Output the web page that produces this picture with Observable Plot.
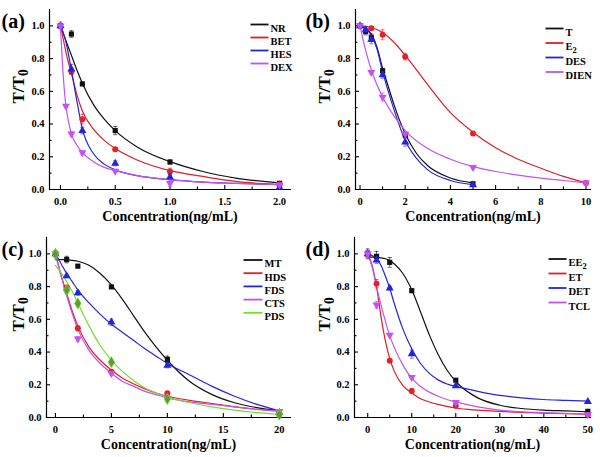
<!DOCTYPE html>
<html><head><meta charset="utf-8">
<script src="https://cdn.jsdelivr.net/npm/d3@7"></script>
<script src="https://cdn.jsdelivr.net/npm/@observablehq/plot@0.6"></script>
<style>
html,body{margin:0;padding:0;background:#fff;}
#wrap{position:relative;width:600px;height:457px;overflow:hidden;background:#fff;}
#wrap svg{position:absolute;overflow:visible;}
</style></head><body><div id="wrap"></div>
<script>
// ---------- Panel (a) ----------
const aNames = ["NR", "BET", "HES", "DEX"];
const aX = [0, 0.1, 0.2, 0.5, 1, 2];
const aDEXx = [0, 0.05, 0.1, 0.2, 0.5, 1, 2];
const aNR = [1.0, 0.95, 0.645, 0.36, 0.168, 0.038];
const aNRerr = [0.01, 0.02, 0.01, 0.025, 0.012, 0.005];
const aBET = [1.0, 0.72, 0.43, 0.246, 0.11, 0.03];
const aBETerr = [0.01, 0.015, 0.03, 0.01, 0.02, 0.005];
const aHES = [1.0, 0.735, 0.36, 0.16, 0.076, 0.012];
const aHESerr = [0.01, 0.03, 0.02, 0.015, 0.015, 0.005];
const aDEX = [1.0, 0.51, 0.34, 0.226, 0.113, 0.038, 0.028];
const aDEXerr = [0.025, 0.01, 0.015, 0.01, 0.01, 0.02, 0.005];
const aCurveX = [0, 0.025, 0.05, 0.075, 0.1, 0.15, 0.2, 0.3, 0.4, 0.5, 0.7, 1.0, 1.3, 1.6, 2.0];
const aCurveNR = [1.0, 0.955, 0.91, 0.865, 0.82, 0.73, 0.65, 0.52, 0.43, 0.36, 0.26, 0.17, 0.11, 0.07, 0.04];
const aCurveBET = [1.0, 0.92, 0.84, 0.77, 0.71, 0.58, 0.48, 0.37, 0.30, 0.25, 0.18, 0.115, 0.08, 0.05, 0.03];
const aCurveHES = [1.0, 0.96, 0.9, 0.82, 0.73, 0.54, 0.37, 0.22, 0.155, 0.12, 0.085, 0.06, 0.045, 0.038, 0.03];
const aCurveDEX = [1.0, 0.70, 0.51, 0.41, 0.34, 0.27, 0.225, 0.17, 0.135, 0.115, 0.085, 0.06, 0.045, 0.038, 0.03];
const aTicks = [0, 0.5, 1.0, 1.5, 2.0];
const aMinor = [0.25, 0.75, 1.25, 1.75];

// ---------- Panel (b) ----------
const bNames = ["T", "E_2", "DES", "DIEN"];
const bX = [0, 0.25, 0.5, 1, 2, 5];
const bX2 = [0, 0.5, 1, 2, 5, 10];
const bT = [1.0, 0.965, 0.93, 0.725, 0.333, 0.035];
const bTerr = [0.01, 0.02, 0.02, 0.015, 0.01, 0.005];
const bE2 = [1.0, 0.985, 0.945, 0.812, 0.342, 0.04];
const bE2err = [0.01, 0.01, 0.03, 0.02, 0.01, 0.005];
const bDES = [1.0, 0.975, 0.915, 0.70, 0.29, 0.028];
const bDESerr = [0.01, 0.02, 0.025, 0.02, 0.025, 0.005];
const bDIEN = [1.0, 0.716, 0.565, 0.34, 0.136, 0.04];
const bDIENerr = [0.01, 0.01, 0.025, 0.01, 0.01, 0.005];
const bCurveX = [0, 0.25, 0.5, 0.75, 1, 1.25, 1.5, 2, 2.5, 3, 4, 5];
const bCurveT = [0.995, 0.985, 0.95, 0.87, 0.74, 0.63, 0.52, 0.34, 0.22, 0.145, 0.07, 0.04];
const bCurveDES = [0.995, 0.985, 0.945, 0.86, 0.72, 0.6, 0.49, 0.30, 0.19, 0.12, 0.055, 0.03];
const bCurveX2 = [0, 0.5, 1, 1.5, 2, 3, 4, 5, 6, 7, 8, 9, 10];
const bCurveE2 = [1.0, 0.99, 0.96, 0.90, 0.82, 0.64, 0.47, 0.35, 0.255, 0.185, 0.13, 0.08, 0.04];
const bCurveX3 = [0, 0.25, 0.5, 0.75, 1, 1.5, 2, 3, 4, 5, 6, 7, 8, 9, 10];
const bCurveDIEN = [1.0, 0.85, 0.73, 0.64, 0.565, 0.45, 0.36, 0.25, 0.185, 0.14, 0.11, 0.088, 0.07, 0.055, 0.04];
const bTicks = [0, 2, 4, 6, 8, 10];
const bMinor = [1, 3, 5, 7, 9];

// ---------- Panel (c) ----------
const cNames = ["MT", "HDS", "FDS", "CTS", "PDS"];
const cX = [0, 1, 2, 5, 10, 20];
const cMT = [1.0, 0.965, 0.925, 0.798, 0.355, 0.02];
const cMTerr = [0.01, 0.02, 0.01, 0.01, 0.02, 0.01];
const cHDS = [1.0, 0.795, 0.545, 0.28, 0.148, 0.025];
const cHDSerr = [0.01, 0.01, 0.015, 0.01, 0.01, 0.005];
const cFDS = [1.0, 0.865, 0.762, 0.582, 0.318, 0.03];
const cFDSerr = [0.01, 0.01, 0.015, 0.02, 0.015, 0.005];
const cCTS = [1.0, 0.772, 0.48, 0.27, 0.115, 0.038];
const cCTSerr = [0.02, 0.01, 0.015, 0.01, 0.01, 0.005];
const cPDS = [1.0, 0.778, 0.697, 0.338, 0.113, 0.018];
const cPDSerr = [0.02, 0.01, 0.015, 0.01, 0.01, 0.005];
const cCurveX = [0, 0.5, 1, 1.5, 2, 3, 4, 5, 6, 7, 8, 9, 10, 12, 14, 16, 18, 20];
const cCurveMT = [0.965, 0.965, 0.965, 0.96, 0.955, 0.93, 0.88, 0.81, 0.72, 0.62, 0.52, 0.43, 0.35, 0.22, 0.14, 0.09, 0.06, 0.04];
const cCurveHDS = [1.0, 0.87, 0.76, 0.65, 0.56, 0.43, 0.35, 0.29, 0.24, 0.205, 0.175, 0.15, 0.13, 0.105, 0.085, 0.065, 0.05, 0.04];
const cCurveFDS = [1.0, 0.94, 0.88, 0.83, 0.78, 0.70, 0.63, 0.57, 0.52, 0.47, 0.42, 0.375, 0.33, 0.26, 0.19, 0.13, 0.08, 0.04];
const cCurveCTS = [1.0, 0.865, 0.745, 0.635, 0.54, 0.41, 0.33, 0.27, 0.22, 0.19, 0.16, 0.14, 0.12, 0.095, 0.08, 0.065, 0.05, 0.04];
const cCurvePDS = [0.93, 0.885, 0.83, 0.77, 0.70, 0.56, 0.44, 0.35, 0.28, 0.225, 0.18, 0.15, 0.125, 0.09, 0.065, 0.045, 0.03, 0.02];
const cTicks = [0, 5, 10, 15, 20];
const cMinor = [2.5, 7.5, 12.5, 17.5];

// ---------- Panel (d) ----------
const dNames = ["EE_2", "ET", "DET", "TCL"];
const dX = [0, 2, 5, 10, 20, 50];
const dEE2 = [1.0, 0.985, 0.948, 0.775, 0.228, 0.038];
const dEE2err = [0.03, 0.03, 0.03, 0.01, 0.01, 0.005];
const dET = [1.0, 0.818, 0.347, 0.162, 0.072, 0.015];
const dETerr = [0.02, 0.025, 0.01, 0.015, 0.01, 0.005];
const dDET = [1.0, 0.962, 0.79, 0.388, 0.193, 0.097];
const dDETerr = [0.02, 0.02, 0.01, 0.025, 0.01, 0.005];
const dTCL = [1.0, 0.688, 0.503, 0.245, 0.093, 0.018];
const dTCLerr = [0.02, 0.02, 0.01, 0.01, 0.01, 0.005];
const dCurveX = [0, 1, 2, 3, 4, 5, 6, 8, 10, 12, 14, 16, 18, 20, 25, 30, 35, 40, 45, 50];
const dCurveEE2 = [0.98, 0.98, 0.98, 0.975, 0.97, 0.96, 0.94, 0.88, 0.78, 0.645, 0.505, 0.385, 0.29, 0.22, 0.12, 0.075, 0.055, 0.045, 0.04, 0.035];
const dCurveET = [1.0, 0.93, 0.80, 0.62, 0.47, 0.36, 0.285, 0.195, 0.15, 0.115, 0.095, 0.08, 0.068, 0.058, 0.045, 0.037, 0.031, 0.027, 0.023, 0.02];
const dCurveDET = [1.0, 0.99, 0.97, 0.93, 0.865, 0.79, 0.70, 0.54, 0.42, 0.33, 0.27, 0.23, 0.205, 0.19, 0.16, 0.135, 0.12, 0.11, 0.105, 0.1];
const dCurveTCL = [1.0, 0.92, 0.80, 0.69, 0.59, 0.50, 0.43, 0.32, 0.24, 0.19, 0.155, 0.13, 0.11, 0.095, 0.065, 0.045, 0.035, 0.03, 0.025, 0.02];
const dTicks = [0, 10, 20, 30, 40, 50];
const dMinor = [5, 15, 25, 35, 45];

// ---------- shared ----------
const yTicks = [0, 0.2, 0.4, 0.6, 0.8, 1.0];
const yMinor = [0.1, 0.3, 0.5, 0.7, 0.9];
const xTitle = "Concentration(ng/mL)";
const yTitle = "T/T_0";
const seriesColors = ["#111111", "#dd1f26", "#2424e0", "#c252f2", "#6fe030"];
const seriesSymbols = ["square", "circle", "triangle", "triangle", "diamond"];
const seriesRotate = [0, 0, 0, 180, 0];
const seriesFill = ["#111111", "#e5202a", "#2424e0", "#c252f2", "#5e9a34"];

const FONT = "'Liberation Serif', 'Times New Roman', serif";
const hline = {draw(ctx, size) { const w = Math.sqrt(size / Math.PI); ctx.moveTo(-w, 0); ctx.lineTo(w, 0); }};

function rows(names, xs, ys, errs) {
  return names.map((n, k) => xs[k].map((x, i) => ({s: k, name: n, x, y: ys[k][i], e: errs ? errs[k][i] : 0}))).flat();
}

function panel(cfg) {
  const pts = rows(cfg.names, cfg.px, cfg.py, cfg.pe);
  const crv = rows(cfg.names, cfg.cx, cfg.cy);
  const ml = cfg.m[3], mt = cfg.m[0];
  const marks = [
    Plot.frame({anchor: "left", stroke: "#000", strokeWidth: 1.2}),
    Plot.frame({anchor: "bottom", stroke: "#000", strokeWidth: 1.2}),
    Plot.axisX({ticks: cfg.ticks, tickSize: 0, tickPadding: 8, tickFormat: cfg.fmt, label: null, fontSize: 10.5, fontWeight: "bold"}),
    // inward ticks: outward tick shifted back across the axis line
    Plot.axisX({ticks: cfg.ticks, tickSize: 4, dy: -4, tickFormat: () => "", label: null, strokeWidth: 1.1}),
    Plot.axisX({ticks: cfg.minor, tickSize: 2.5, dy: -2.5, tickFormat: () => "", label: null, strokeWidth: 1.1}),
    Plot.axisY({ticks: yTicks, tickSize: 0, tickPadding: 5, tickFormat: d3.format(".1f"), label: null, fontSize: 10.5, fontWeight: "bold"}),
    Plot.axisY({ticks: yTicks, tickSize: 4, dx: 4, tickFormat: () => "", label: null, strokeWidth: 1.1}),
    Plot.axisY({ticks: yMinor, tickSize: 2.5, dx: 2.5, tickFormat: () => "", label: null, strokeWidth: 1.1}),
    Plot.line(crv, {x: "x", y: "y", z: "s", stroke: d => seriesColors[d.s], curve: "monotone-x", strokeWidth: 1.2})
  ];
  cfg.names.forEach((n, k) => {
    const p = pts.filter(d => d.s === k);
    const col = seriesColors[k];
    marks.push(
      Plot.ruleX(p, {x: "x", y1: d => d.y - d.e, y2: d => d.y + d.e, stroke: col, strokeWidth: 0.8, strokeOpacity: 0.8}),
      Plot.dot(p, {x: "x", y: d => d.y + d.e, symbol: hline, r: 2, stroke: col, strokeWidth: 0.8, strokeOpacity: 0.8}),
      Plot.dot(p, {x: "x", y: d => d.y - d.e, symbol: hline, r: 2, stroke: col, strokeWidth: 0.8, strokeOpacity: 0.8}),
      Plot.dot(p, {x: "x", y: "y", symbol: seriesSymbols[k], rotate: seriesRotate[k], r: k === 4 ? 3.4 : (k === 0 ? 2.9 : 3.0), fill: seriesFill[k], stroke: k === 4 ? seriesColors[4] : "none", strokeWidth: 0.8})
    );
    // legend
    const ly = cfg.leg[1] + k * cfg.leg[2];
    marks.push(
      Plot.dot([n], {frameAnchor: "top-left", dx: cfg.leg[0] + cfg.leg[3] / 2 - ml, dy: ly - mt, symbol: hline, r: cfg.leg[3] / 2, stroke: col, strokeWidth: 1.8}),
      Plot.text([n], {frameAnchor: "top-left", dx: cfg.leg[0] + cfg.leg[3] + 2 - ml, dy: ly - mt, text: d => d, textAnchor: "start", fontSize: 10.5, fontWeight: "bold", fill: "#000"})
    );
  });
  marks.push(
    Plot.text([xTitle], {frameAnchor: "bottom", dy: 31, text: d => d, fontSize: 14, fontWeight: "bold", fill: "#000"}),
    Plot.text([yTitle], {frameAnchor: "left", dx: cfg.ytx - ml, dy: 4, rotate: -90, text: d => d, fontSize: 17, fontWeight: "bold", fill: "#000"}),
    Plot.text([cfg.label], {frameAnchor: "top-left", dx: cfg.lab[0] - ml, dy: cfg.lab[1] - mt, text: d => d, textAnchor: "start", fontSize: 20, fontWeight: "bold", fill: "#000"})
  );
  const svg = Plot.plot({
    width: cfg.w, height: cfg.h,
    marginTop: cfg.m[0], marginRight: cfg.m[1], marginBottom: cfg.m[2], marginLeft: cfg.m[3],
    x: {domain: cfg.xd},
    y: {domain: [0, 1.1]},
    style: {fontFamily: FONT, fontWeight: "bold", color: "#000", background: "transparent", overflow: "visible"},
    marks
  });
  svg.style.left = cfg.left + "px";
  svg.style.top = cfg.top + "px";
  // subscripts ("_x" -> lowered digit)
  svg.querySelectorAll("text").forEach(t => {
    const s = t.textContent;
    if (t.children.length === 0 && s.includes("_")) {
      const [a, b] = s.split("_");
      t.textContent = a;
      const ts = document.createElementNS("http://www.w3.org/2000/svg", "tspan");
      ts.setAttribute("dy", "0.3em");
      ts.setAttribute("font-size", "0.8em");
      ts.textContent = b;
      t.appendChild(ts);
    }
  });
  document.getElementById("wrap").appendChild(svg);
}

panel({label: "(a)", names: aNames, left: 0, top: 0, w: 300, h: 228, m: [9, 10, 39, 49], xd: [-0.1, 2.1],
  ticks: aTicks, minor: aMinor, fmt: d3.format(".1f"),
  px: [aX, aX, aX, aDEXx], py: [aNR, aBET, aHES, aDEX], pe: [aNRerr, aBETerr, aHESerr, aDEXerr],
  cx: [aCurveX, aCurveX, aCurveX, aCurveX], cy: [aCurveNR, aCurveBET, aCurveHES, aCurveDEX],
  leg: [250, 24, 13, 18], ytx: 18, lab: [1, 13]});

panel({label: "(b)", names: bNames, left: 300, top: 0, w: 300, h: 228, m: [9, 10, 39, 55], xd: [-0.2, 10.2],
  ticks: bTicks, minor: bMinor, fmt: d3.format("d"),
  px: [bX, bX2, bX, bX2], py: [bT, bE2, bDES, bDIEN], pe: [bTerr, bE2err, bDESerr, bDIENerr],
  cx: [bCurveX, bCurveX2, bCurveX, bCurveX3], cy: [bCurveT, bCurveE2, bCurveDES, bCurveDIEN],
  leg: [245, 28, 14.5, 18], ytx: 24, lab: [5, 13]});

panel({label: "(c)", names: cNames, left: 0, top: 228, w: 300, h: 229, m: [9, 10, 40, 46], xd: [-0.8, 21],
  ticks: cTicks, minor: cMinor, fmt: d3.format("d"),
  px: [cX, cX, cX, cX, cX], py: [cMT, cHDS, cFDS, cCTS, cPDS], pe: [cMTerr, cHDSerr, cFDSerr, cCTSerr, cPDSerr],
  cx: [cCurveX, cCurveX, cCurveX, cCurveX, cCurveX], cy: [cCurveMT, cCurveHDS, cCurveFDS, cCurveCTS, cCurvePDS],
  leg: [243, 31.5, 13.2, 19], ytx: 18, lab: [1, 13]});

panel({label: "(d)", names: dNames, left: 300, top: 228, w: 300, h: 229, m: [9, 10, 40, 54], xd: [-3, 50.6],
  ticks: dTicks, minor: dMinor, fmt: d3.format("d"),
  px: [dX, dX, dX, dX], py: [dEE2, dET, dDET, dTCL], pe: [dEE2err, dETerr, dDETerr, dTCLerr],
  cx: [dCurveX, dCurveX, dCurveX, dCurveX], cy: [dCurveEE2, dCurveET, dCurveDET, dCurveTCL],
  leg: [248, 30.5, 14.5, 18], ytx: 24, lab: [5, 13]});
</script></body></html>
